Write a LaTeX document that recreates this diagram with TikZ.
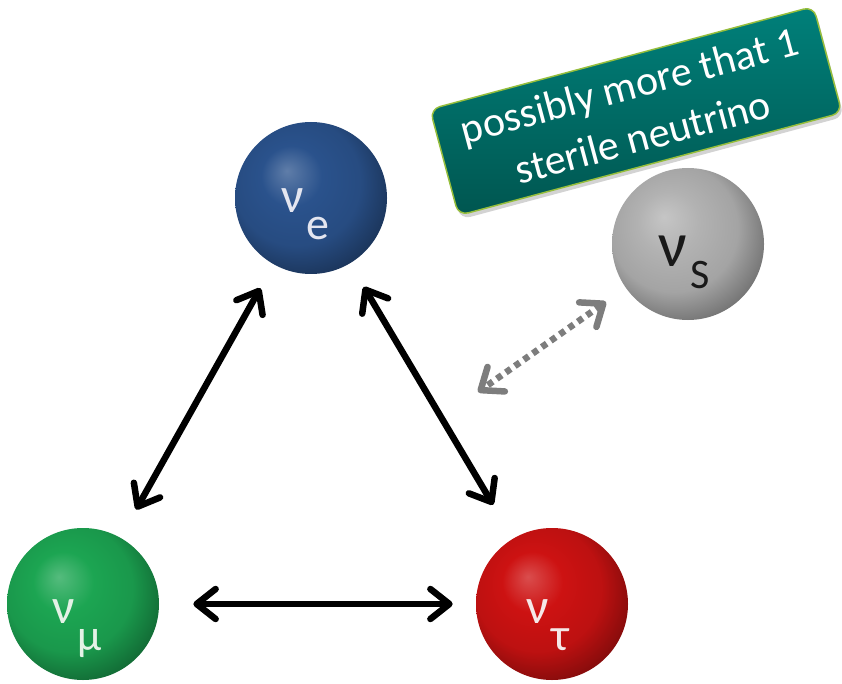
\documentclass[tikz,border=0pt]{standalone}
\usepackage{fontspec}
\setmainfont{Carlito}
\usetikzlibrary{arrows.meta,shadows}
\tikzset{every picture/.style={line width=0.75pt}}

\definecolor{nublue}{RGB}{42,82,140}
\definecolor{nugreen}{RGB}{28,165,82}
\definecolor{nured}{RGB}{205,18,18}
\definecolor{nugray}{RGB}{178,178,178}
\definecolor{notetop}{RGB}{0,128,122}
\definecolor{notebot}{RGB}{0,86,80}
\definecolor{noterim}{RGB}{150,190,60}
\definecolor{mixgray}{RGB}{125,125,125}
\colorlet{gloss}{gray}

\pgfdeclareradialshading[gloss]{glossball}{\pgfqpoint{-8bp}{9bp}}{%
  color(0bp)=(gloss!75!white); color(10bp)=(gloss);
  color(21bp)=(gloss!92!black); color(30bp)=(gloss!65!black);
  color(38bp)=(gloss!40!black); color(50bp)=(black)}

% nu with a lowered flavour index
\newcommand{\flav}[3][27pt]{ν\kern3pt\raisebox{-#1}{\fontsize{#2}{#2}\selectfont #3}}

\tikzset{barb/.tip={Straight Barb[length=19pt,width=30pt,round]}}

\begin{document}
\begin{tikzpicture}[x=1pt,y=-1pt,
    sphere/.style={circle, minimum size=152pt, inner sep=0pt, shade,
      /utils/exec={\colorlet{gloss}{#1}}, shading=glossball},
    flavtxt/.style={anchor=base west, inner sep=0pt,
      font=\fontsize{50}{50}\selectfont},
    osc/.style={line width=6.5pt, barb-barb},
    note/.style={rectangle, rounded corners=10pt, draw=noterim, line width=1.5pt,
      top color=notetop, bottom color=notebot, text=white, align=center,
      minimum width=397pt, minimum height=110pt,
      font=\fontsize{42}{53}\selectfont,
      drop shadow={opacity=0.35, shadow xshift=2pt, shadow yshift=-4pt}}]
  \useasboundingbox (0,0) rectangle (842,684);

  % the three active flavours and the sterile one
  \node[sphere=nublue] (nue) at (311,198) {};
  \node[sphere=nugreen] (numu) at (83,604) {};
  \node[sphere=nured] (nutau) at (552,604) {};
  \node[sphere=nugray] (nus) at (688,244) {};

  \node[flavtxt, text={rgb,255:red,228;green,230;blue,240}] (nue-t) at (281,213) {\flav{46}{e}};
  \node[flavtxt, text={rgb,255:red,228;green,242;blue,230}] (numu-t) at (52,623) {\flav{44}{μ}};
  \node[flavtxt, text={rgb,255:red,245;green,232;blue,232}] (nutau-t) at (526,623) {\flav{46}{τ}};
  \node[flavtxt, text={rgb,255:red,25;green,25;blue,25},
    font=\fontsize{64}{64}\selectfont] (nus-t) at (658,267) {\flav[21pt]{42}{S}};

  \node[note, rotate=15] (note) at (636,111) {possibly more that 1\\sterile neutrino};

  % oscillations
  \draw[osc, shorten <=27pt, shorten >=32pt] (nue) -- (numu);
  \draw[osc, shorten <=27pt, shorten >=39pt] (nue) -- (nutau);
  \draw[osc, shorten <=34pt, shorten >=23pt] (numu) -- (nutau);

  \coordinate (mixend) at (478,392);
  \draw[osc, draw=mixgray, dash pattern=on 6pt off 5pt, line cap=butt,
    shorten <=24pt] (nus) -- (mixend);
\end{tikzpicture}
\end{document}
